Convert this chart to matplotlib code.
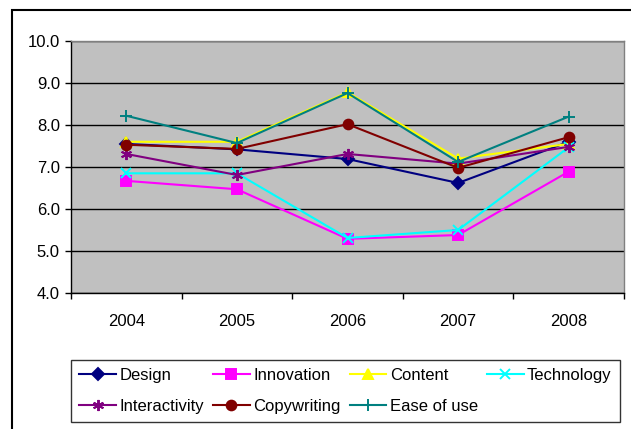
import matplotlib
matplotlib.use("Agg")
import matplotlib.pyplot as plt
from matplotlib.patches import Rectangle

plt.rcParams['font.family'] = ['Liberation Sans', 'DejaVu Sans']

years = ["2004", "2005", "2006", "2007", "2008"]
design = [7.55, 7.42, 7.19, 6.62, 7.60]
innovation = [6.67, 6.47, 5.29, 5.38, 6.89]
content = [7.60, 7.60, 8.78, 7.20, 7.55]
technology = [6.85, 6.85, 5.31, 5.50, 7.47]
interactivity = [7.31, 6.81, 7.31, 7.08, 7.48]
copywriting = [7.53, 7.43, 8.02, 6.98, 7.71]
ease_of_use = [8.22, 7.57, 8.76, 7.12, 8.20]

series = [
    ("Design", design, "#000080", "D", 6),
    ("Innovation", innovation, "#FF00FF", "s", 7),
    ("Content", content, "#FFFF00", "^", 7),
    ("Technology", technology, "#00FFFF", "x", 7),
    ("Interactivity", interactivity, "#800080", (6, 2, 0), 8),
    ("Copywriting", copywriting, "#800000", "o", 7),
    ("Ease of use", ease_of_use, "#008080", "+", 8),
]

fig = plt.figure(figsize=(6.31, 4.29), dpi=100)
fig.patch.set_facecolor("white")

# outer chart border (partly cut off)
fig.patches.append(Rectangle((12 / 631, -0.1), 1.2, 1.1 - 10 / 429,
                             transform=fig.transFigure, fill=False,
                             edgecolor="black", linewidth=1.5))

ax = fig.add_axes([71 / 631, 1 - 293 / 429, 553 / 631, 252 / 429])
ax.set_facecolor("#C0C0C0")

x = range(len(years))
handles = []
for name, vals, col, mk, ms in series:
    h, = ax.plot(x, vals, color=col, marker=mk, markersize=ms, linewidth=1.5,
                 markeredgecolor=col, markerfacecolor=col, markeredgewidth=1.4,
                 label=name)
    handles.append(h)

ax.set_ylim(4, 10)
ax.set_yticks([4, 5, 6, 7, 8, 9, 10])
ax.set_yticklabels(["%.1f" % v for v in [4, 5, 6, 7, 8, 9, 10]])
ax.set_xlim(-0.5, 4.5)
ax.set_xticks(list(x))
ax.set_xticklabels(years)
ax.set_xticks([-0.5, 0.5, 1.5, 2.5, 3.5, 4.5], minor=True)
ax.tick_params(axis="x", which="major", length=0, pad=15, labelsize=12)
ax.tick_params(axis="x", which="minor", length=4, direction="out", width=1)
ax.tick_params(axis="y", length=4, direction="out", width=1, pad=4, labelsize=12)
ax.yaxis.grid(True, color="black", linewidth=1)
ax.set_axisbelow(True)
for s in ["left", "bottom"]:
    ax.spines[s].set_color("black")
    ax.spines[s].set_linewidth(1)
for s in ["top", "right"]:
    ax.spines[s].set_color("#808080")
    ax.spines[s].set_linewidth(1)

# legend fills row by row: reorder for matplotlib's column-first layout
order = [0, 4, 1, 5, 2, 6, 3]
leg = fig.legend([handles[i] for i in order], [series[i][0] for i in order],
                 loc="lower left", ncol=4, mode="expand",
                 bbox_to_anchor=(71 / 631, 7 / 429, 549 / 631, 61 / 429),
                 borderaxespad=0, fancybox=False, frameon=True,
                 edgecolor="black", fontsize=12, handlelength=2.2,
                 handletextpad=0.2, labelspacing=0.95, borderpad=0.5)
leg.get_frame().set_linewidth(1)

fig.savefig("out.png", dpi=100)
